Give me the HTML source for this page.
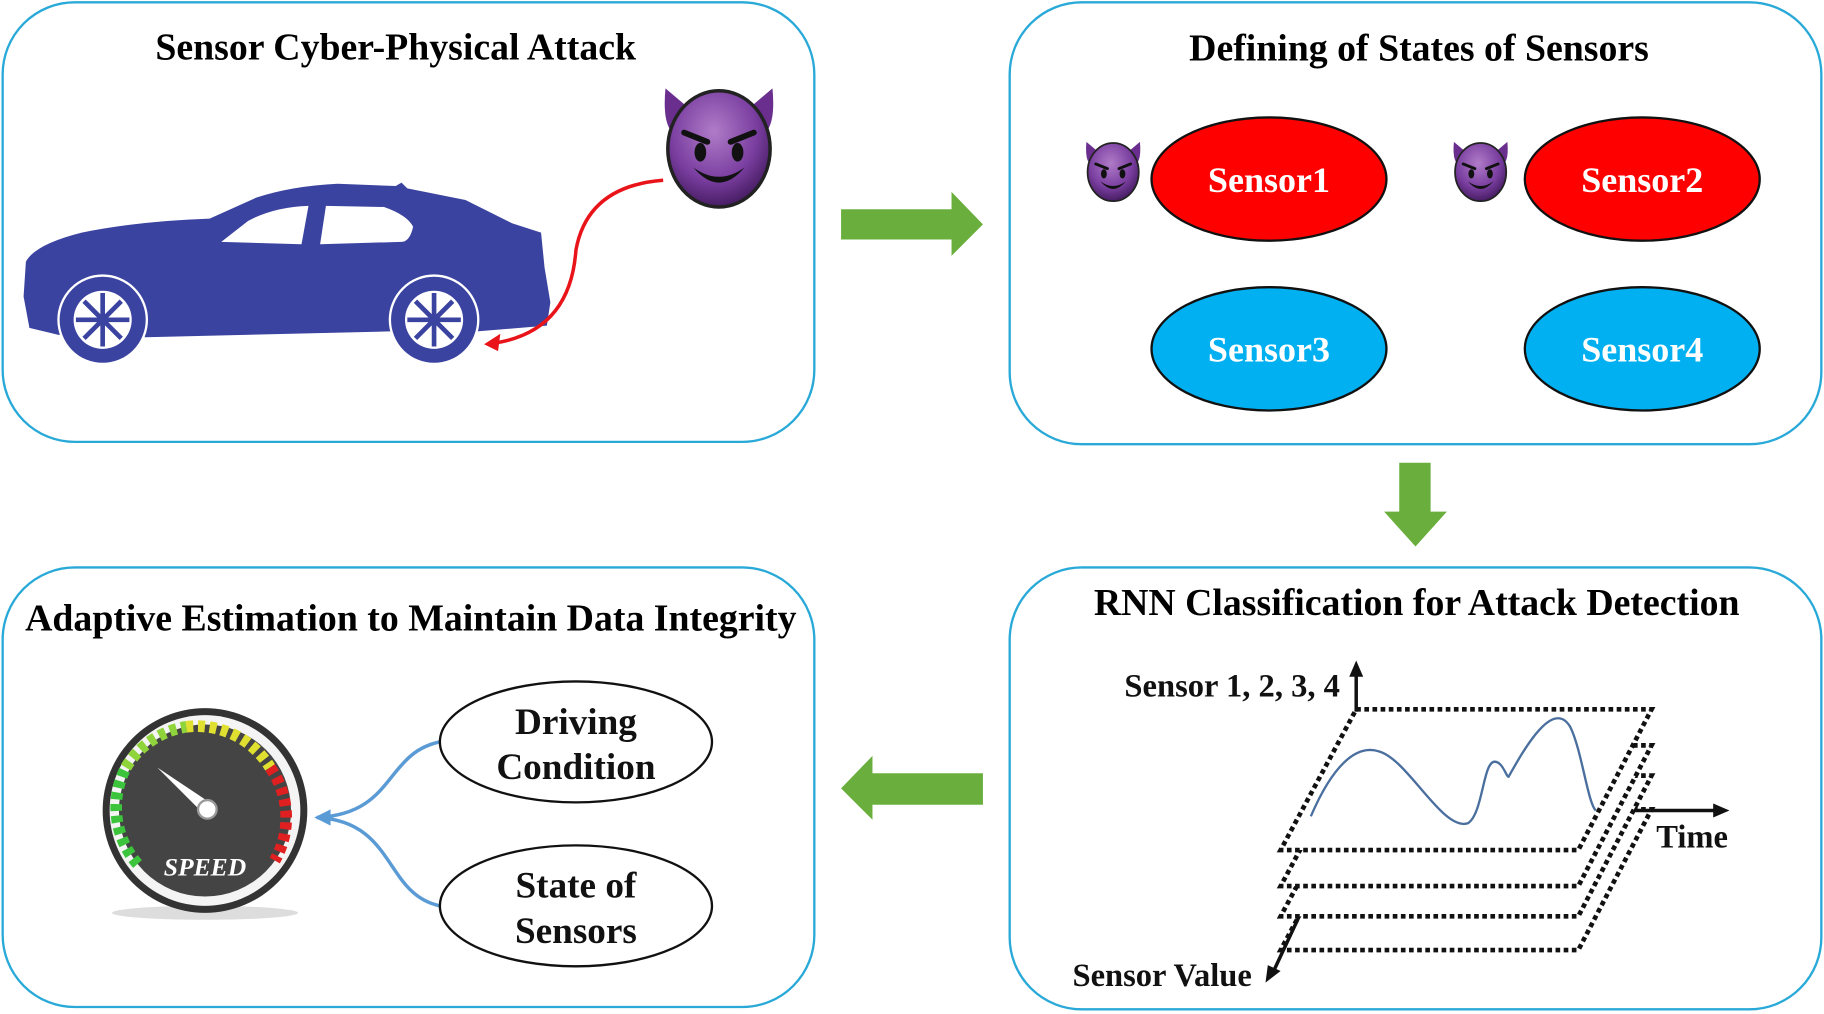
<!DOCTYPE html>
<html><head><meta charset="utf-8"><style>
html,body{margin:0;padding:0;background:#fff;}
svg{display:block;}
text{font-family:"Liberation Serif",serif;font-weight:bold;}
</style></head><body>
<svg width="1824" height="1014" viewBox="0 0 1568 872" xmlns="http://www.w3.org/2000/svg">
<defs>
<radialGradient id="dv" cx="0.45" cy="0.35" r="0.7"><stop offset="0" stop-color="#b07cc8"/><stop offset="0.6" stop-color="#7a3ea0"/><stop offset="1" stop-color="#3c1656"/></radialGradient>
<g id="devil">
<path d="M-46,-52 Q-50,-10 -30,-10 L-20,-30 Z" fill="#6a2f8e"/>
<path d="M46,-52 Q50,-10 30,-10 L20,-30 Z" fill="#6a2f8e"/>
<ellipse cx="0" cy="0" rx="44" ry="50" fill="url(#dv)" stroke="#222" stroke-width="3"/>
<path d="M-30,-14 L-10,-6" stroke="#111" stroke-width="5" stroke-linecap="round"/>
<path d="M30,-14 L10,-6" stroke="#111" stroke-width="5" stroke-linecap="round"/>
<ellipse cx="-16" cy="3" rx="5" ry="8" fill="#111"/>
<ellipse cx="16" cy="3" rx="5" ry="8" fill="#111"/>
<path d="M-22,16 Q0,42 22,16 Q0,32 -22,16 Z" fill="#111"/>
</g>
</defs>

<g fill="#fff" stroke="#29a9d8" stroke-width="2">
<rect x="2" y="2" width="698" height="378" rx="62"/>
<rect x="868" y="2" width="698" height="380" rx="62"/>
<rect x="2" y="488" width="698" height="378" rx="62"/>
<rect x="868" y="488" width="698" height="380" rx="62"/>
</g>

<text x="340" y="51" font-size="32.5" text-anchor="middle">Sensor Cyber-Physical Attack</text>
<text x="1220" y="52" font-size="32.5" text-anchor="middle">Defining of States of Sensors</text>
<text x="353" y="542" font-size="32.5" text-anchor="middle">Adaptive Estimation to Maintain Data Integrity</text>
<text x="1218" y="529" font-size="32.5" text-anchor="middle">RNN Classification for Attack Detection</text>

<g fill="#6aaf3d">
<polygon points="723,180 818,180 818,165 845,193 818,220 818,206 723,206"/>
<polygon points="1203,398 1230,398 1230,440 1244,440 1217,470 1190,440 1203,440"/>
<polygon points="845,665 750,665 750,650 723,678 750,705 750,692 845,692"/>
</g>

<path d="M22,225 Q30,210 70,200 Q120,190 180,188 L220,170 Q250,160 290,158 L340,160 L345,157 L350,162 L400,172 L440,192 L465,200 L468,230 L473,260 L470,280 L410,285 L335,285 L125,290 L50,288 L25,282 L20,255 Z" fill="#3b43a0"/>
<path d="M190,208 L213,190 Q235,178 265,177 L259,210 Z" fill="#fff"/>
<path d="M275,210 L280,177 L330,178 Q350,185 355,195 Q352,208 345,208 Z" fill="#fff"/>
<g>
<circle cx="88" cy="275" r="38" fill="#3b43a0" stroke="#fff" stroke-width="2"/>
<circle cx="88" cy="275" r="25" fill="#fff"/>
<circle cx="373" cy="275" r="38" fill="#3b43a0" stroke="#fff" stroke-width="2"/>
<circle cx="373" cy="275" r="25" fill="#fff"/>
<g stroke="#3b43a0" stroke-width="4">
<path d="M88,252 V298 M65,275 H111 M72,259 L104,291 M104,259 L72,291"/>
<path d="M373,252 V298 M350,275 H396 M357,259 L389,291 M389,259 L357,291"/>
</g>
<circle cx="88" cy="275" r="5" fill="#3b43a0"/><circle cx="373" cy="275" r="5" fill="#3b43a0"/>
</g>

<path d="M570,155 Q505,160 495,215 Q490,285 425,295" fill="none" stroke="#e8141a" stroke-width="3"/>
<polygon points="416,296 430,287 428,302" fill="#e8141a"/>

<g transform="translate(618,128)"><use href="#devil"/></g>
<g transform="translate(957,148) scale(0.5)"><use href="#devil"/></g>
<g transform="translate(1273,148) scale(0.5)"><use href="#devil"/></g>

<g stroke="#111" stroke-width="2">
<ellipse cx="1091" cy="154" rx="101" ry="53" fill="#ff0000"/>
<ellipse cx="1412" cy="154" rx="101" ry="53" fill="#ff0000"/>
<ellipse cx="1091" cy="300" rx="101" ry="53" fill="#00b0f0"/>
<ellipse cx="1412" cy="300" rx="101" ry="53" fill="#00b0f0"/>
</g>
<g fill="#fff" font-size="31" text-anchor="middle">
<text x="1091" y="165">Sensor1</text><text x="1412" y="165">Sensor2</text>
<text x="1091" y="311">Sensor3</text><text x="1412" y="311">Sensor4</text>
</g>

<g fill="#fff" stroke="#111" stroke-width="4" stroke-dasharray="4,3">
<polygon points="1166,696 1420,696 1357,817 1101,817"/>
<polygon points="1166,667 1420,667 1357,788 1101,788"/>
<polygon points="1166,641 1420,641 1357,762 1101,762"/>
<polygon points="1166,610 1420,610 1357,731 1101,731"/>
</g>
<path d="M1166,612 V580" stroke="#111" stroke-width="3"/>
<polygon points="1160,582 1172,582 1166,568" fill="#111"/>
<path d="M1405,697 H1475" stroke="#111" stroke-width="3"/>
<polygon points="1473,691 1487,697 1473,703" fill="#111"/>
<path d="M1117,788 L1095,835" stroke="#111" stroke-width="3"/>
<polygon points="1088,845 1090,830 1101,835" fill="#111"/>
<path d="M1127,702 C1145,660 1165,640 1185,646 C1210,652 1240,715 1262,708 C1275,700 1275,655 1285,655 C1292,655 1295,668 1297,668 C1310,645 1335,600 1350,625 C1360,645 1365,690 1372,697" fill="none" stroke="#4a6f9e" stroke-width="2"/>
<g font-size="28" fill="#111">
<text x="1152" y="599" text-anchor="end">Sensor 1, 2, 3, 4</text>
<text x="1424" y="729">Time</text>
<text x="922" y="848">Sensor Value</text>
</g>

<ellipse cx="176" cy="785" rx="80" ry="6" fill="#ddd"/>
<circle cx="176" cy="697" r="88" fill="#333"/>
<circle cx="176" cy="697" r="82" fill="#f4f4f4"/>
<circle cx="176" cy="697" r="74" fill="#444"/>
<g stroke-width="10" fill="none">
<path d="M118,743 A74,74 0 0 1 108,660" stroke="#3cc43c" stroke-dasharray="6,4"/>
<path d="M108,660 A74,74 0 0 1 160,625" stroke="#8fd43a" stroke-dasharray="6,4"/>
<path d="M160,625 A74,74 0 0 1 232,660" stroke="#e0e030" stroke-dasharray="6,4"/>
<path d="M232,660 A74,74 0 0 1 236,740" stroke="#e02020" stroke-dasharray="6,4"/>
</g>
<path d="M135,660 L183,692 L176,701 Z" fill="#fff"/>
<circle cx="178" cy="696" r="8" fill="#fff" stroke="#999" stroke-width="2"/>
<text x="176" y="753" font-size="22" fill="#fff" font-style="italic" text-anchor="middle" font-family="Liberation Sans, sans-serif">SPEED</text>

<path d="M378,638 C330,648 340,700 272,703 M378,779 C330,769 340,706 272,703" fill="none" stroke="#5b9bd5" stroke-width="3"/>
<polygon points="270,703 284,696 284,710" fill="#5b9bd5"/>
<g fill="#fff" stroke="#111" stroke-width="2">
<ellipse cx="495" cy="638" rx="117" ry="52"/>
<ellipse cx="495" cy="779" rx="117" ry="52"/>
</g>
<g font-size="32" text-anchor="middle" fill="#111">
<text x="495" y="631">Driving</text><text x="495" y="670">Condition</text>
<text x="495" y="772">State of</text><text x="495" y="811">Sensors</text>
</g>
</svg>
</body></html>
